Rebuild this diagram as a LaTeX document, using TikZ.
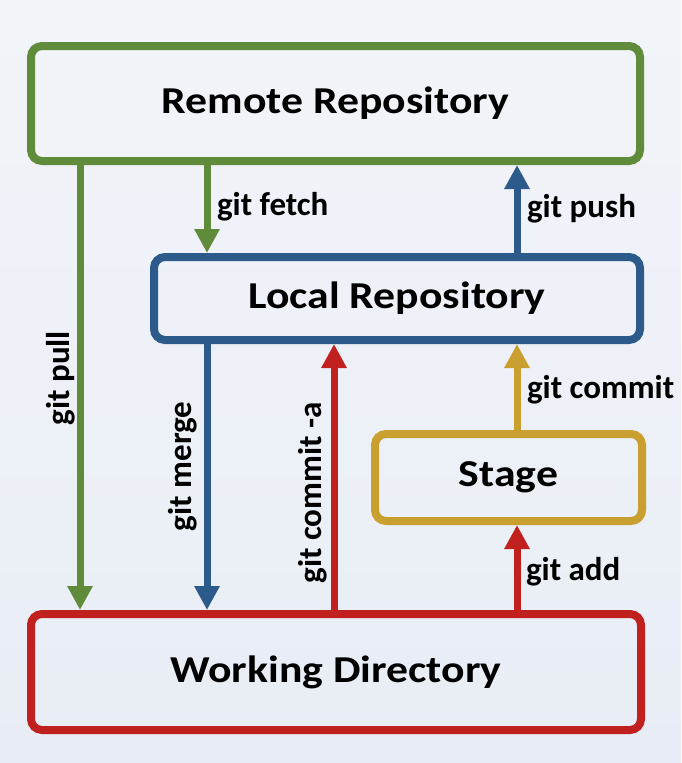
\documentclass[tikz,border=0pt]{standalone}
\usepackage{fontspec}
\setmainfont{Carlito}
\newfontfamily\titlefont[FakeStretch=1.15]{Carlito}
\usetikzlibrary{arrows.meta}
\definecolor{cgreen}{HTML}{5F8B3A}
\definecolor{cblue}{HTML}{2C5A8A}
\definecolor{cred}{HTML}{C0211E}
\definecolor{cgold}{HTML}{C9A030}
\definecolor{bgtop}{HTML}{F2F4F9}
\definecolor{bgbot}{HTML}{E8EDF5}
\begin{document}
\begin{tikzpicture}[x=1pt,y=-1pt,
  box/.style={draw=#1, line width=8pt, rounded corners=11pt, font=\titlefont\bfseries\fontsize{38}{44}\selectfont, text=black},
  arr/.style={draw=#1, line width=7pt, -{Triangle[width=24pt,length=24pt]}},
  lbl/.style={inner sep=0pt, outer sep=#1, anchor=west, font=\bfseries\fontsize{33}{36}\selectfont},
  rlbl/.style={inner sep=0pt, outer sep=#1, anchor=south, rotate=90, font=\bfseries\fontsize{33}{36}\selectfont}]
\useasboundingbox (0,0) rectangle (681,763);
\shade[top color=bgtop, bottom color=bgbot] (0,0) rectangle (681,763);

\node[box=cgreen, minimum width=609pt, minimum height=115pt] (remote) at (335.5,103.5) {Remote Repository};
\node[box=cblue, minimum width=486pt, minimum height=83pt] (local) at (397,298.5) {Local Repository};
\node[box=cgold, minimum width=267pt, minimum height=87pt] (stage) at (508.5,477.5) {Stage};
\node[box=cred, minimum width=610pt, minimum height=116pt] (work) at (336,672) {Working Directory};

\coordinate (xpull) at (80,0);
\coordinate (xleft) at (207,0);
\coordinate (xmid) at (334,0);
\coordinate (xright) at (517,0);

\draw[arr=cgreen] (remote.south -| xpull) -- node[pos=0.479, rlbl=5pt] {git pull} (work.north -| xpull);
\draw[arr=cgreen] (remote.south -| xleft) -- node[pos=0.47, lbl=10pt] {git fetch} (local.north -| xleft);
\draw[arr=cblue] (local.north -| xright) -- node[pos=0.5, lbl=10pt] {git push} (remote.south -| xright);
\draw[arr=cblue] (local.south -| xleft) -- node[pos=0.46, rlbl=10pt] {git merge} (work.north -| xleft);
\draw[arr=cred] (work.north -| xmid) -- node[pos=0.44, rlbl=7pt] {git commit -a} (local.south -| xmid);
\draw[arr=cgold] (stage.north -| xright) -- node[pos=0.465, lbl=10pt] {git commit} (local.south -| xright);
\draw[arr=cred] (work.north -| xright) -- node[pos=0.45, lbl=9pt] {git add} (stage.south -| xright);
\end{tikzpicture}
\end{document}
